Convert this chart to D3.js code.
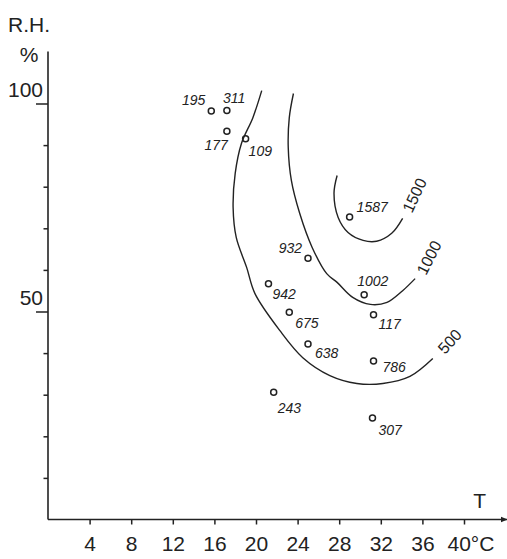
<!DOCTYPE html>
<html>
<head>
<meta charset="utf-8">
<script src="https://cdn.jsdelivr.net/npm/d3@7/dist/d3.min.js"></script>
<style>
  body { margin: 0; background: #fff; }
  svg text { fill: #222; font-family: "Liberation Sans", Arial, sans-serif; }
  .axis-label { font-size: 21px; }
  .pt-label { font-size: 14px; font-style: italic; }
  .iso-label { font-size: 16px; }
</style>
</head>
<body>
<svg id="chart" width="507" height="559"></svg>
<script>
// sample counts, temperature (°C) and relative humidity (%)
samples = [195, 311, 177, 109, 1587, 932, 942, 675, 638, 1002, 117, 786, 243, 307]
sampleT = [15.7, 17.2, 17.2, 19.0, 29.0, 25.0, 21.2, 23.2, 25.0, 30.4, 31.3, 31.3, 21.7, 31.2]
sampleRH = [98.2, 98.3, 93.3, 91.5, 72.7, 62.8, 56.7, 49.8, 42.2, 54.0, 49.2, 38.1, 30.6, 24.4]

// iso-lines as [T, RH]
levels = [500, 1000, 1500]
contour500 = [[20.55, 103.1], [19.7, 96.6], [18.6, 90.4], [18.0, 83.2], [17.8, 75.0], [18.1, 67.8],
              [19.1, 60.6], [19.9, 54.3], [22.3, 45.4], [24.5, 38.9], [27.1, 34.6], [29.7, 32.7],
              [32.2, 32.7], [34.8, 34.4], [37.0, 38.7]]
contour1000 = [[23.6, 102.4], [23.2, 96.6], [23.1, 89.4], [23.4, 81.5], [24.2, 73.6], [25.4, 65.4],
               [26.8, 59.1], [27.8, 57.0], [29.3, 53.4], [31.0, 51.7], [32.6, 52.2], [34.1, 55.0],
               [35.3, 57.9]]
contour1500 = [[27.8, 82.7], [27.5, 78.4], [27.9, 72.6], [28.85, 69.0], [30.3, 67.1], [31.6, 66.9],
               [33.05, 68.8], [34.1, 72.4]]

xTicks = [4, 8, 12, 16, 20, 24, 28, 32, 36, 40]
yTicks = [10, 20, 30, 40, 50, 60, 70, 80, 90, 100]
yLabels = [50, 100]

svg = d3.select('#chart')

x = d3.scaleLinear().domain([0, 40]).range([48, 464])
y = d3.scaleLinear().domain([0, 100]).range([519.5, 103.5])

svg.append('defs').append('marker')
   .attr('id', 'arrow')
   .attr('viewBox', '0 0 10 10')
   .attr('refX', 10).attr('refY', 5)
   .attr('markerWidth', 7).attr('markerHeight', 7)
   .attr('markerUnits', 'userSpaceOnUse')
   .attr('orient', 'auto')
   .append('path')
   .attr('d', 'M0,1 L10,5 L0,9 Z')
   .attr('fill', '#222')

// x axis
xAxis = svg.append('g')
           .attr('transform', 'translate(0,' + y(0) + ')')
           .call(d3.axisBottom(x).tickValues(xTicks).tickSize(5).tickSizeOuter(0)
                   .tickFormat(function(d) { return d }))
xAxis.select('.domain').remove()
xAxis.selectAll('.tick line').attr('stroke', '#222').attr('stroke-width', 1.5)
xAxis.selectAll('.tick text')
     .attr('class', 'axis-label')
     .attr('y', 17)
     .attr('dy', '0.71em')
     .style('font-size', '21px')
     .attr('font-family', null)
xAxis.selectAll('.tick text')
     .filter(function(d) { return d == 40 })
     .attr('text-anchor', 'start')
     .attr('x', -17)
     .text('40°C')
svg.append('line')
   .attr('x1', x(0)).attr('x2', x(44.2))
   .attr('y1', y(0)).attr('y2', y(0))
   .attr('stroke', '#222').attr('stroke-width', 1.6)
   .attr('marker-end', 'url(#arrow)')

// y axis
yAxis = svg.append('g')
           .attr('transform', 'translate(' + x(0) + ',0)')
           .call(d3.axisLeft(y).tickValues(yTicks).tickSizeOuter(0)
                   .tickSize(4.5).tickFormat(''))
yAxis.select('.domain').remove()
yAxis.selectAll('.tick line')
     .attr('stroke', '#222').attr('stroke-width', 1.5)
     .attr('x2', function(d) { return yLabels.indexOf(d) >= 0 ? -12 : -4.5 })
svg.append('line')
   .attr('x1', x(0)).attr('x2', x(0))
   .attr('y1', y(0)).attr('y2', y(112.5))
   .attr('stroke', '#222').attr('stroke-width', 1.6)

svg.selectAll('.y-label')
   .data(yLabels)
   .enter()
   .append('text')
   .attr('class', 'axis-label')
   .attr('text-anchor', 'end')
   .attr('x', x(0) - 5)
   .attr('y', function(d) { return y(d) - 7 })
   .text(function(d) { return d })

svg.append('text').attr('class', 'axis-label').attr('x', 8).attr('y', 32).text('R.H.')
svg.append('text').attr('class', 'axis-label').attr('x', 29).attr('y', 62)
   .attr('text-anchor', 'middle').text('%')
svg.append('text').attr('class', 'axis-label').attr('x', x(41.5)).attr('y', 508)
   .attr('text-anchor', 'middle').text('T')

// iso-lines
line = d3.line()
         .x(function(d) { return x(d[0]) })
         .y(function(d) { return y(d[1]) })
         .curve(d3.curveCatmullRom.alpha(0.5))

contours = [contour500, contour1000, contour1500]
isoLabelPos = [[17, -17, -48], [14, -21, -63], [12, -23, -65]]

svg.selectAll('.iso')
   .data(contours)
   .enter()
   .append('path')
   .attr('d', line)
   .attr('fill', 'none')
   .attr('stroke', '#222')
   .attr('stroke-width', 1.4)

svg.selectAll('.iso-label')
   .data(levels)
   .enter()
   .append('text')
   .attr('class', 'iso-label')
   .attr('text-anchor', 'middle')
   .attr('dominant-baseline', 'central')
   .attr('transform', function(d, i) {
     end = contours[i][contours[i].length - 1]
     p = isoLabelPos[i]
     return 'translate(' + (x(end[0]) + p[0]) + ',' + (y(end[1]) + p[1]) + ') rotate(' + p[2] + ')'
   })
   .text(function(d) { return d })

// sample points
labelPos = {
  195: [-6, -6, 'end'], 311: [-4, -8, 'start'], 177: [1, 19, 'end'], 109: [3, 17, 'start'],
  1587: [7, -5, 'start'], 932: [-6, -5, 'end'], 942: [4, 15, 'start'], 675: [6, 16, 'start'],
  638: [7, 14, 'start'], 1002: [-7, -9, 'start'], 117: [5, 14, 'start'], 786: [9, 11, 'start'],
  243: [4, 21, 'start'], 307: [6, 17, 'start']
}

pts = svg.selectAll('.pt')
         .data(samples)
         .enter()
         .append('g')
         .attr('transform', function(d, i) {
           return 'translate(' + x(sampleT[i]) + ',' + y(sampleRH[i]) + ')'
         })
pts.append('circle')
   .attr('r', 3)
   .attr('fill', 'none')
   .attr('stroke', '#222')
   .attr('stroke-width', 1.5)
pts.append('text')
   .attr('class', 'pt-label')
   .attr('x', function(d) { return labelPos[d][0] })
   .attr('y', function(d) { return labelPos[d][1] })
   .attr('text-anchor', function(d) { return labelPos[d][2] })
   .text(function(d) { return d })
</script>
</body>
</html>
